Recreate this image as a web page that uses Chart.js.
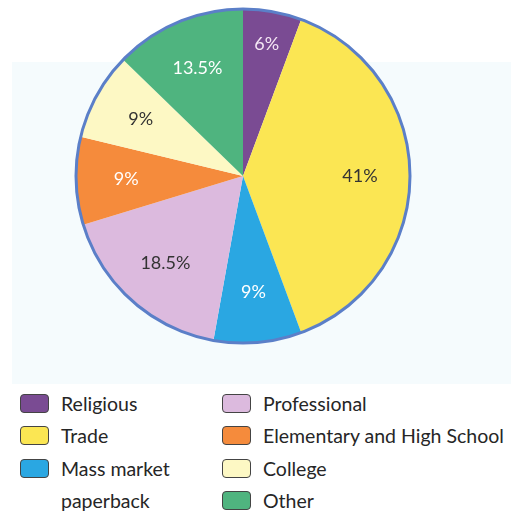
<!DOCTYPE html>
<html lang="en">
<head>
<meta charset="UTF-8">
<title>Book sales by category</title>
<script src="https://cdn.jsdelivr.net/npm/chart.js@4"></script>
<style>
  body { margin: 0; width: 511px; height: 511px; background: #fff; font-family: Lato, "Open Sans", sans-serif; position: relative; overflow: hidden; }
  .tint { position: absolute; left: 12px; top: 62px; width: 499px; height: 322px; background: #f5fbfd; }
  #wrap { position: absolute; left: 0; top: 0; }
  .legend { position: absolute; left: 0; top: 388px; width: 511px; }
  .item { position: absolute; display: flex; align-items: flex-start; font-size: 19.5px; color: #262626; line-height: 32px; white-space: nowrap; }
  .sw { width: 27px; height: 17px; border: 1.5px solid #444; border-radius: 4px; margin-top: 6px; margin-right: 12px; flex: none; }
</style>
</head>
<body>
<div class="tint"></div>
<div id="wrap"><canvas id="pie" width="511" height="360"></canvas></div>
<div class="legend" id="legend"></div>
<script>
// data
const categories = ['Religious', 'Trade', 'Mass market paperback', 'Professional', 'Elementary and High School', 'College', 'Other'];
const shares = [6, 41, 9, 18.5, 9, 9, 13.5];
const sliceLabels = ['6%', '41%', '9%', '18.5%', '9%', '9%', '13.5%'];

const colors = ['#7a4b93', '#fbe653', '#2aa7e2', '#dcbade', '#f58b3c', '#fdf8c4', '#4fb47f'];
const labelColors = ['#f4e6f4', '#333', '#fff', '#333', '#fff', '#333', '#fff'];

// labels inside slices + blue rim
const pieExtras = {
  id: 'pieExtras',
  afterDatasetsDraw(chart) {
    const ctx = chart.ctx;
    const arcs = chart.getDatasetMeta(0).data;
    const a0 = arcs[0];
    ctx.save();
    ctx.beginPath();
    ctx.arc(a0.x, a0.y, a0.outerRadius, 0, Math.PI * 2);
    ctx.lineWidth = 3;
    ctx.strokeStyle = '#5b7fc8';
    ctx.stroke();

    ctx.font = '18px Lato, "Open Sans", sans-serif';
    ctx.textAlign = 'center';
    ctx.textBaseline = 'middle';
    arcs.forEach((arc, i) => {
      const mid = (arc.startAngle + arc.endAngle) / 2;
      const r = arc.outerRadius * (i === 0 ? 0.8 : 0.7);
      ctx.fillStyle = labelColors[i];
      ctx.fillText(sliceLabels[i], arc.x + Math.cos(mid) * r, arc.y + Math.sin(mid) * r);
    });
    ctx.restore();
  }
};

new Chart(document.getElementById('pie'), {
  type: 'pie',
  data: {
    labels: categories,
    datasets: [{
      data: shares,
      backgroundColor: colors,
      borderWidth: 0
    }]
  },
  options: {
    responsive: false,
    animation: false,
    layout: { padding: { left: 76, right: 101, top: 9, bottom: 17 } },
    plugins: { legend: { display: false }, tooltip: { enabled: false } }
  },
  plugins: [pieExtras]
});

// legend in two columns
const legend = document.getElementById('legend');
const spots = [[20, 0], [20, 32], [20, 65], [222, 0], [222, 32], [222, 65], [222, 97]];
categories.forEach((name, i) => {
  const el = document.createElement('div');
  el.className = 'item';
  el.style.left = spots[i][0] + 'px';
  el.style.top = spots[i][1] + 'px';
  if (i === 2) { el.style.width = '170px'; el.style.whiteSpace = 'normal'; }
  el.innerHTML = '<span class="sw" style="background:' + colors[i] + '"></span><span>' + name + '</span>';
  legend.appendChild(el);
});
</script>
</body>
</html>
